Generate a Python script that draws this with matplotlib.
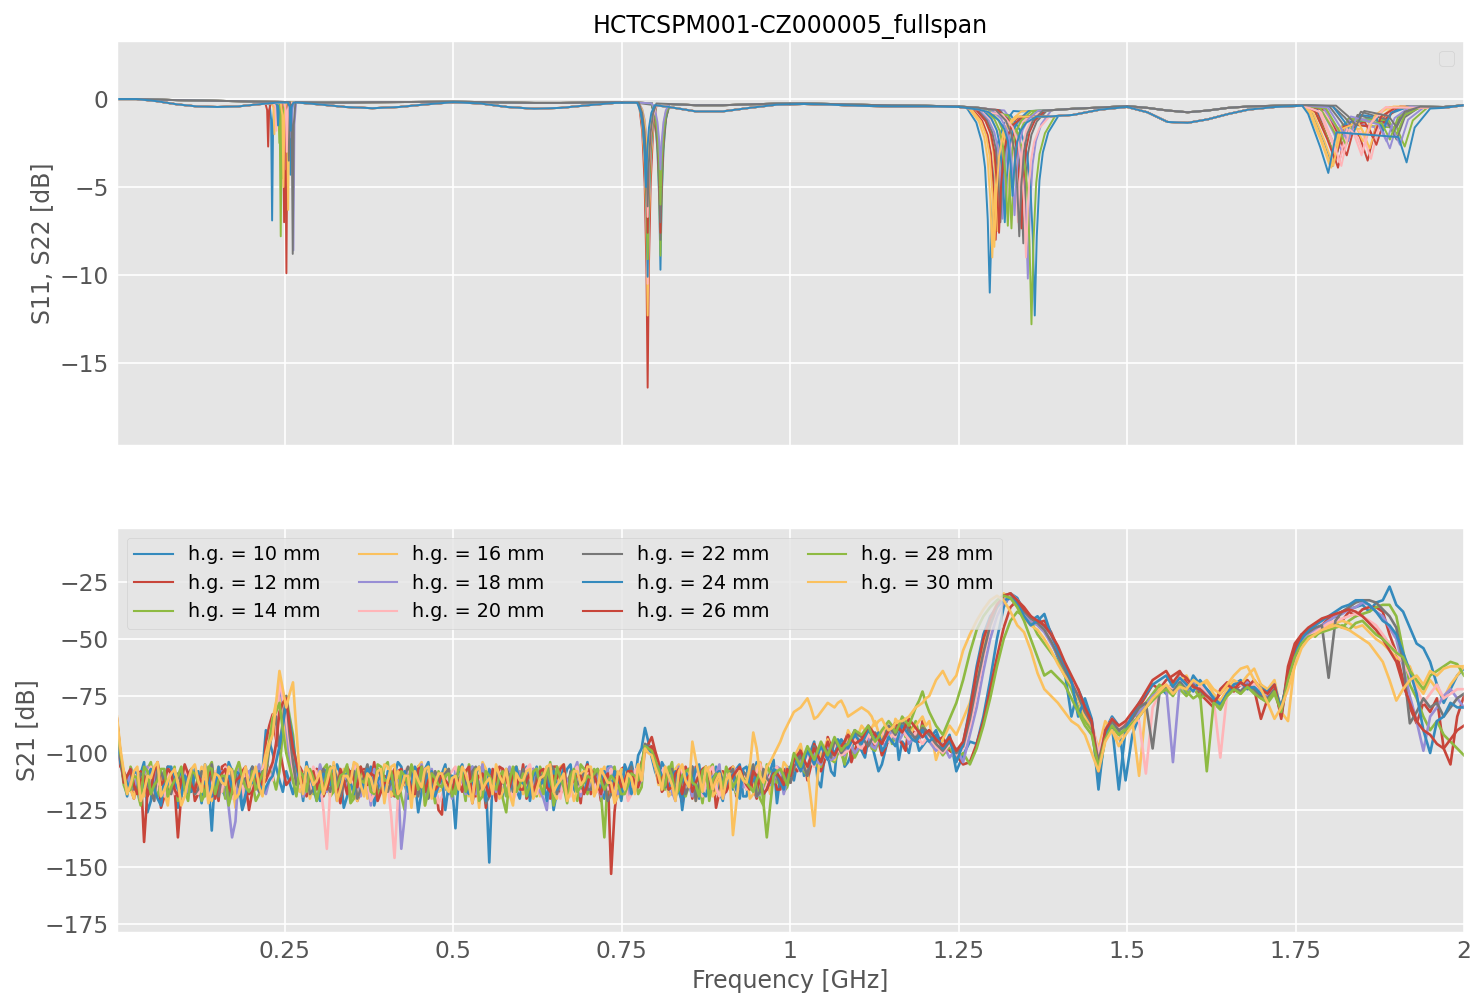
import numpy as np
import matplotlib
matplotlib.use('Agg')
import matplotlib.pyplot as plt

plt.style.use('ggplot')
plt.rcParams['font.family'] = ['DejaVu Sans']

COLORS = ['#348ABD', '#C8453A', '#8EBA42', '#FBC15E', '#988ED5', '#FFB5B8', '#777777']
HG_MM = [10, 12, 14, 16, 18, 20, 22, 24, 26, 28, 30]
TITLE = 'HCTCSPM001-CZ000005_fullspan'
X_TICKS = [0.25, 0.5, 0.75, 1.0, 1.25, 1.5, 1.75, 2.0]
X_TICK_LABELS = ['0.25', '0.5', '0.75', '1', '1.25', '1.5', '1.75', '2']
Y1_TICKS = [-15, -10, -5, 0]
Y2_TICKS = [-175, -150, -125, -100, -75, -50, -25]

# ---------------- S11 / S22 (top) ----------------
BASE_F = [0.001, 0.03, 0.06, 0.09, 0.12, 0.15, 0.18, 0.21, 0.24, 0.27, 0.30, 0.34, 0.38, 0.42,
          0.46, 0.50, 0.54, 0.58, 0.62, 0.66, 0.70, 0.74, 0.77, 0.82, 0.86, 0.90, 0.94, 0.98,
          1.02, 1.06, 1.10, 1.15, 1.20, 1.25, 1.28, 1.30, 1.34, 1.38, 1.42, 1.46, 1.50, 1.53,
          1.56, 1.59, 1.62, 1.65, 1.68, 1.72, 1.76, 1.97, 2.0]
BASE_S11 = [0.0, 0.0, -0.03, -0.06, -0.08, -0.10, -0.12, -0.15, -0.16, -0.18, -0.20, -0.20, -0.18, -0.17,
            -0.16, -0.15, -0.17, -0.20, -0.22, -0.22, -0.20, -0.18, -0.20, -0.28, -0.35, -0.35, -0.30, -0.26,
            -0.25, -0.28, -0.32, -0.36, -0.38, -0.42, -0.50, -0.60, -0.70, -0.65, -0.55, -0.48, -0.40, -0.50,
            -0.65, -0.75, -0.65, -0.50, -0.42, -0.38, -0.35, -0.45, -0.35]
BASE_S22 = [0.0, 0.0, -0.12, -0.30, -0.42, -0.45, -0.42, -0.30, -0.20, -0.20, -0.30, -0.45, -0.52, -0.45,
            -0.30, -0.18, -0.25, -0.45, -0.55, -0.50, -0.35, -0.22, -0.20, -0.45, -0.70, -0.70, -0.50, -0.32,
            -0.28, -0.32, -0.38, -0.42, -0.42, -0.45, -0.60, -0.80, -1.00, -1.00, -0.90, -0.60, -0.45, -0.75,
            -1.30, -1.35, -1.15, -0.85, -0.60, -0.45, -0.38, -0.50, -0.35]

DIP_A_F = [0.2312, 0.2253, 0.2440, 0.2346, 0.2628, 0.2375, 0.2570, 0.2584, 0.2524, 0.2420, 0.2550,
           0.2470, 0.2500, 0.2560, 0.2400, 0.2490, 0.2460, 0.2480, 0.2600, 0.2530, 0.2618, 0.2587]
DIP_A_DB = [-6.9, -2.7, -7.8, -2.0, -8.6, -1.8, -2.0, -4.3, -9.9, -2.5, -6.3,
            -3.0, -4.0, -3.5, -1.5, -7.0, -4.5, -5.0, -2.2, -3.0, -8.8, -1.8]
DIP_B_F = [0.8075, 0.7885, 0.8075, 0.7885, 0.8075, 0.7885, 0.8075, 0.7885, 0.8075, 0.7885, 0.8075,
           0.7885, 0.8075, 0.8075, 0.8075, 0.7885, 0.8075, 0.7885, 0.8075, 0.7885, 0.7885, 0.7860]
DIP_B_DB = [-9.7, -16.4, -8.9, -12.3, -6.5, -10.5, -8.0, -10.1, -7.6, -9.1, -5.0,
            -3.5, -4.5, -7.0, -5.5, -7.6, -6.0, -4.0, -4.0, -6.7, -6.1, -5.0]
DIP_C_F = [1.2962, 1.3050, 1.3284, 1.3000, 1.3527, 1.3200, 1.3460, 1.3630, 1.3432, 1.3581, 1.3080,
           1.3150, 1.3380, 1.3120, 1.3185, 1.3100, 1.3230, 1.3030, 1.3330, 1.3500, 1.3400, 1.3300]
DIP_C_DB = [-11.0, -8.0, -7.35, -9.0, -10.2, -6.5, -8.2, -12.3, -7.35, -12.8, -7.5,
            -6.8, -7.0, -7.0, -7.0, -7.6, -7.2, -8.4, -6.6, -9.0, -7.8, -5.5]
DIP_D_F1 = [1.805, 1.813, 1.808, 1.800, 1.818, 1.822, 1.830, 1.812, 1.826, 1.816, 1.803,
            1.820, 1.815, 1.835, 1.835, 1.809, 1.825, 1.806, 1.828, 1.818, 1.840, 1.7986]
DIP_D_DB1 = [-3.8, -3.9, -3.2, -3.7, -2.9, -3.0, -2.0, -3.0, -3.2, -2.5, -3.9,
             -2.2, -3.6, -1.6, -2.0, -3.5, -2.6, -3.8, -2.4, -3.8, -1.5, -4.2]
DIP_D_F2 = [1.880, 1.857, 1.912, 1.850, 1.890, 1.862, 1.900, 1.880, 1.870, 1.900, 1.860,
            1.905, 1.850, 1.895, 1.880, 1.865, 1.890, 1.855, 1.885, 1.848, 1.900, 1.9148]
DIP_D_DB2 = [-1.6, -3.5, -2.7, -2.4, -2.8, -3.4, -2.3, -1.8, -2.6, -2.0, -2.8,
             -2.6, -3.0, -1.9, -1.7, -2.2, -2.3, -2.2, -2.4, -3.2, -1.6, -3.6]

# dip shapes (offset GHz, fraction of depth)
PROF_A = ([-0.004, -0.0015, 0.0, 0.0015, 0.004], [0.0, 0.15, 1.0, 0.15, 0.0])
PROF_B = ([-0.013, -0.008, -0.0045, -0.0018, 0.0, 0.0018, 0.0045, 0.008, 0.013],
          [0.0, 0.1, 0.28, 0.58, 1.0, 0.58, 0.28, 0.1, 0.0])
PROF_C = ([-0.035, -0.02, -0.012, -0.007, -0.003, 0.0, 0.003, 0.007, 0.012, 0.02, 0.035],
          [0.0, 0.08, 0.18, 0.32, 0.6, 1.0, 0.6, 0.32, 0.18, 0.08, 0.0])

# ---------------- S21 (bottom), loss in dB ----------------
FREQ_S21 = np.linspace(0.001, 2.0, 200)
N_MID = 120  # extra samples between the first 121 grid points

S21_HG10 = [88, 112, 108, 118, 104, 121, 110, 115, 107, 124,
            109, 116, 113, 105, 134, 111, 119, 108, 114, 120,
            106, 117, 90, 100, 112, 108, 118, 110, 104, 115,
            121, 107, 113, 109, 119, 105, 116, 111, 123, 108,
            114, 110, 106, 120, 112, 117, 104, 113, 109, 118,
            133, 108, 115, 111, 105, 148, 112, 119, 107, 116,
            110, 121, 106, 114, 109, 117, 112, 105, 118, 111,
            115, 108, 120, 106, 113, 110, 104, 101, 89, 102,
            112, 107, 118, 110, 114, 106, 120, 109, 113, 117,
            108, 116, 105, 119, 111, 107, 114, 103, 110, 106,
            112, 98, 108, 95, 115, 101, 110, 96, 104, 90,
            99, 94, 102, 105, 92, 88, 95, 100, 93, 97,
            94, 90, 98, 92, 108, 101, 95, 96, 84, 68,
            50, 36, 30, 32, 38, 42, 40, 45, 51, 58,
            64, 84, 72, 79, 86, 116, 90, 84, 88, 112,
            92, 84, 80, 76, 71, 74, 70, 68, 74, 66,
            70, 72, 75, 78, 73, 70, 68, 71, 73, 70,
            74, 72, 80, 68, 56, 50, 46, 48, 45, 42,
            40, 38, 37, 36, 35, 38, 34, 33, 27, 35,
            38, 45, 52, 54, 60, 70, 78, 72, 66, 63]
S21_MID_HG10 = [104, 119, 112, 109, 126, 107, 114, 120, 111, 108,
                118, 107, 122, 112, 109, 116, 104, 113, 125, 109,
                112, 108, 95, 106, 117, 113, 109, 121, 112, 107,
                110, 118, 105, 124, 112, 108, 115, 106, 117, 112,
                119, 104, 113, 109, 126, 107, 118, 111, 105, 114,
                110, 117, 106, 122, 113, 109, 116, 108, 112, 120,
                106, 113, 118, 109, 125, 111, 107, 116, 112, 104,
                109, 117, 106, 113, 121, 108, 112, 98, 95, 108,
                104, 118, 110, 125, 107, 113, 109, 116, 106, 121,
                113, 107, 119, 110, 104, 116, 108, 122, 112, 107,
                104, 110, 99, 112, 102, 108, 94, 106, 100, 95,
                102, 96, 108, 99, 94, 103, 97, 92, 99, 95]
S21_HG12 = [86, 108, 115, 110, 139, 113, 106, 119, 111, 137,
            112, 107, 118, 114, 109, 121, 105, 116, 110, 113,
            117, 108, 95, 83, 98, 114, 109, 106, 119, 112,
            108, 115, 110, 122, 106, 113, 117, 109, 104, 116,
            111, 119, 107, 114, 110, 105, 118, 112, 127, 109,
            116, 106, 113, 119, 110, 108, 121, 107, 114, 111,
            105, 117, 112, 109, 120, 106, 115, 110, 113, 108,
            118, 111, 107, 153, 112, 106, 116, 109, 100, 93,
            104, 115, 108, 113, 106, 120, 110, 114, 107, 117,
            112, 106, 118, 109, 115, 104, 113, 108, 116, 110,
            105, 100, 112, 96, 108, 93, 103, 98, 91, 99,
            95, 90, 97, 101, 94, 89, 96, 88, 92, 86,
            90, 95, 93, 99, 101, 105, 104, 96, 86, 72,
            58, 45, 36, 33, 36, 40, 43, 42, 47, 54,
            62, 70, 76, 84, 88, 104, 92, 86, 90, 87,
            84, 80, 75, 70, 72, 68, 66, 64, 69, 72,
            74, 77, 80, 72, 69, 73, 70, 68, 72, 85,
            76, 70, 84, 62, 52, 48, 50, 46, 44, 41,
            40, 42, 38, 40, 37, 36, 36, 38, 48, 56,
            68, 80, 87, 78, 82, 76, 98, 105, 84, 75]
S21_MID_HG12 = [106, 112, 120, 108, 117, 110, 124, 106, 115, 118,
                109, 121, 107, 115, 111, 106, 119, 113, 108, 125,
                110, 114, 88, 94, 106, 112, 118, 109, 115, 107,
                119, 106, 116, 112, 109, 121, 107, 113, 118, 110,
                115, 108, 113, 121, 106, 117, 110, 125, 108, 116,
                112, 119, 108, 110, 124, 113, 106, 117, 109, 115,
                120, 107, 114, 111, 106, 118, 112, 108, 122, 105,
                112, 121, 109, 126, 107, 114, 110, 104, 96, 99,
                117, 109, 113, 121, 110, 106, 118, 112, 124, 108,
                107, 119, 111, 106, 120, 112, 109, 116, 107, 113,
                108, 102, 106, 99, 104, 97, 100, 95, 104, 94,
                100, 93, 95, 98, 91, 94, 99, 90, 95, 92]
S21_HG14 = [90, 114, 106, 117, 111, 104, 119, 108, 113, 121,
            106, 115, 110, 118, 104, 112, 120, 107, 116, 109,
            113, 118, 104, 110, 108, 75, 92, 114, 107, 118,
            110, 105, 117, 112, 108, 120, 106, 114, 109, 116,
            104, 113, 119, 108, 115, 110, 106, 122, 111, 107,
            118, 112, 105, 116, 109, 114, 107, 120, 111, 106,
            115, 108, 119, 110, 104, 117, 112, 109, 121, 107,
            113, 110, 137, 108, 115, 106, 112, 118, 97, 99,
            109, 116, 104, 112, 119, 107, 113, 110, 105, 118,
            110, 114, 107, 116, 109, 120, 105, 112, 108, 115,
            107, 102, 110, 99, 106, 95, 104, 100, 97, 102,
            96, 92, 99, 94, 89, 93, 87, 91, 86, 88,
            92, 96, 101, 97, 103, 100, 105, 98, 88, 76,
            62, 50, 42, 38, 40, 42, 48, 52, 56, 60,
            66, 72, 80, 86, 90, 110, 94, 88, 92, 89,
            88, 82, 78, 74, 70, 73, 69, 72, 75, 71,
            76, 74, 78, 81, 75, 72, 74, 70, 73, 76,
            78, 74, 82, 66, 58, 50, 47, 49, 46, 44,
            43, 45, 42, 40, 39, 38, 36, 35, 35, 40,
            55, 70, 76, 84, 90, 86, 92, 95, 98, 101]
S21_MID_HG14 = [102, 118, 110, 123, 107, 115, 112, 117, 106, 119,
                112, 109, 121, 107, 117, 110, 114, 123, 108, 113,
                121, 109, 107, 116, 90, 84, 108, 119, 112, 110,
                107, 119, 110, 114, 122, 108, 113, 110, 118, 106,
                117, 109, 125, 111, 106, 119, 113, 108, 116, 112,
                109, 121, 110, 113, 108, 117, 112, 126, 107, 114,
                111, 117, 106, 114, 123, 109, 115, 110, 105, 118,
                107, 118, 112, 106, 120, 111, 109, 115, 99, 104,
                113, 108, 118, 106, 114, 110, 122, 107, 117, 112,
                108, 118, 112, 105, 115, 123, 109, 113, 117, 110,
                104, 108, 102, 106, 98, 103, 100, 105, 96, 99,
                94, 98, 95, 91, 96, 90, 93, 89, 92, 90]
S21_HG16 = [85, 110, 116, 108, 119, 113, 105, 117, 110, 114,
            118, 107, 113, 109, 121, 106, 115, 111, 104, 117,
            109, 114, 100, 85, 72, 96, 110, 117, 106, 113,
            116, 109, 104, 118, 111, 107, 114, 120, 108, 112,
            106, 117, 110, 113, 119, 104, 112, 108, 116, 110,
            113, 107, 119, 110, 104, 115, 109, 117, 112, 106,
            118, 110, 107, 114, 109, 120, 105, 113, 116, 108,
            111, 116, 106, 112, 119, 108, 113, 105, 96, 100,
            114, 108, 117, 105, 112, 109, 116, 110, 119, 107,
            112, 106, 115, 109, 118, 104, 111, 107, 113, 106,
            102, 96, 108, 132, 100, 94, 103, 98, 90, 95,
            88, 92, 86, 94, 90, 85, 89, 93, 88, 84,
            86, 103, 94, 88, 92, 85, 78, 66, 52, 42,
            34, 30, 32, 36, 41, 44, 46, 50, 55, 61,
            66, 70, 76, 84, 88, 98, 86, 90, 94, 90,
            86, 110, 80, 76, 72, 70, 74, 68, 66, 72,
            71, 69, 74, 77, 72, 68, 70, 66, 63, 70,
            72, 68, 82, 86, 60, 52, 48, 47, 45, 44,
            43, 42, 43, 45, 44, 47, 50, 52, 55, 58,
            60, 62, 70, 74, 68, 72, 76, 70, 66, 62]
S21_MID_HG16 = [100, 113, 120, 111, 106, 116, 110, 123, 108, 117,
                112, 116, 106, 118, 110, 113, 108, 124, 110, 114,
                116, 107, 94, 78, 82, 104, 115, 110, 120, 108,
                113, 119, 110, 107, 115, 121, 108, 116, 111, 105,
                119, 108, 114, 112, 106, 123, 109, 117, 107, 113,
                108, 116, 111, 124, 107, 112, 120, 109, 115, 110,
                113, 108, 119, 110, 117, 106, 114, 121, 109, 112,
                118, 109, 114, 122, 107, 116, 110, 108, 98, 106,
                111, 119, 107, 114, 108, 121, 112, 106, 117, 110,
                116, 109, 113, 120, 106, 112, 118, 109, 104, 110,
                99, 104, 120, 110, 98, 100, 96, 101, 93, 92,
                90, 89, 91, 88, 93, 87, 92, 90, 86, 88]
S21_HG18 = [88, 111, 107, 116, 109, 118, 105, 113, 110, 117,
            108, 115, 111, 106, 119, 110, 114, 137, 107, 116,
            112, 105, 118, 109, 70, 88, 113, 107, 116, 110,
            105, 117, 112, 108, 115, 106, 119, 111, 107, 114,
            110, 113, 142, 108, 116, 105, 112, 118, 109, 115,
            107, 114, 110, 118, 105, 112, 117, 109, 106, 116,
            111, 108, 115, 120, 107, 113, 109, 117, 104, 112,
            116, 109, 113, 106, 118, 110, 107, 114, 98, 101,
            108, 113, 117, 106, 111, 119, 108, 114, 110, 105,
            116, 111, 108, 114, 106, 118, 110, 113, 107, 112,
            106, 103, 109, 100, 105, 97, 102, 99, 95, 100,
            97, 93, 98, 95, 90, 94, 92, 96, 91, 93,
            95, 99, 96, 102, 98, 104, 92, 80, 64, 50,
            40, 34, 32, 35, 39, 42, 44, 47, 52, 57,
            63, 69, 74, 82, 87, 102, 91, 86, 90, 88,
            85, 82, 79, 75, 73, 71, 104, 70, 73, 69,
            72, 74, 77, 79, 74, 71, 73, 69, 72, 74,
            75, 71, 83, 68, 57, 51, 48, 46, 44, 42,
            40, 39, 37, 36, 34, 35, 38, 40, 45, 50,
            62, 75, 86, 99, 84, 80, 75, 72, 76, 80]
S21_MID_HG18 = [103, 116, 110, 121, 106, 113, 119, 108, 115, 112,
                117, 109, 114, 120, 112, 108, 124, 130, 112, 108,
                109, 116, 112, 96, 78, 104, 110, 119, 108, 113,
                111, 108, 121, 110, 116, 109, 113, 123, 110, 117,
                116, 112, 128, 113, 110, 119, 107, 115, 112, 120,
                110, 118, 106, 113, 121, 109, 115, 110, 117, 108,
                113, 107, 117, 125, 110, 116, 112, 108, 119, 111,
                110, 119, 107, 115, 112, 120, 109, 112, 99, 104,
                115, 108, 121, 110, 114, 107, 117, 112, 109, 120,
                112, 107, 115, 110, 119, 108, 114, 106, 118, 110,
                105, 107, 101, 104, 100, 103, 98, 101, 97, 98,
                95, 97, 93, 97, 92, 95, 90, 94, 93, 92]
S21_HG20 = [87, 109, 114, 108, 117, 106, 112, 119, 110, 115,
            107, 113, 118, 109, 115, 111, 106, 120, 113, 108,
            116, 110, 104, 112, 68, 85, 108, 115, 110, 106,
            113, 142, 108, 117, 110, 105, 115, 112, 118, 107,
            114, 146, 110, 106, 117, 112, 108, 115, 119, 110,
            106, 116, 111, 108, 114, 120, 107, 113, 109, 117,
            110, 105, 118, 112, 108, 116, 111, 119, 106, 113,
            109, 117, 112, 107, 115, 110, 118, 106, 99, 98,
            111, 106, 115, 109, 117, 112, 108, 114, 106, 119,
            109, 113, 107, 116, 110, 105, 114, 108, 112, 107,
            104, 108, 100, 106, 98, 103, 96, 101, 99, 94,
            98, 92, 96, 90, 95, 93, 89, 94, 91, 96,
            93, 97, 100, 96, 101, 98, 88, 74, 58, 45,
            37, 32, 30, 33, 38, 41, 43, 46, 50, 56,
            62, 68, 73, 81, 86, 100, 90, 85, 89, 86,
            84, 86, 109, 80, 74, 70, 72, 67, 70, 73,
            70, 73, 76, 102, 74, 71, 70, 72, 69, 73,
            74, 70, 82, 70, 60, 53, 49, 47, 45, 43,
            42, 41, 40, 39, 40, 42, 44, 48, 52, 56,
            60, 66, 72, 78, 74, 70, 76, 74, 72, 72]
S21_MID_HG20 = [101, 117, 111, 113, 109, 121, 115, 108, 118, 111,
                110, 116, 113, 122, 108, 117, 109, 113, 119, 111,
                113, 107, 109, 95, 76, 96, 114, 110, 117, 109,
                125, 116, 112, 110, 118, 108, 113, 121, 110, 114,
                127, 120, 108, 113, 111, 116, 110, 122, 114, 108,
                112, 108, 119, 110, 117, 113, 109, 116, 121, 112,
                107, 113, 111, 115, 110, 120, 114, 108, 117, 109,
                114, 109, 116, 110, 113, 121, 108, 112, 97, 104,
                108, 112, 118, 107, 114, 110, 119, 108, 115, 113,
                111, 117, 109, 113, 108, 118, 110, 106, 115, 109,
                106, 103, 104, 100, 101, 99, 98, 100, 96, 97,
                95, 94, 93, 94, 92, 91, 92, 93, 94, 94]
S21_HG22 = [86, 112, 108, 115, 110, 117, 106, 113, 118, 109,
            114, 107, 116, 110, 105, 119, 112, 108, 115, 111,
            106, 117, 110, 90, 98, 75, 104, 113, 108, 116,
            110, 114, 107, 119, 112, 108, 116, 105, 113, 110,
            117, 109, 113, 106, 115, 111, 120, 108, 112, 107,
            114, 110, 117, 106, 112, 119, 108, 113, 110, 115,
            107, 116, 110, 113, 105, 118, 112, 108, 114, 109,
            116, 107, 112, 118, 109, 113, 106, 111, 96, 98,
            110, 115, 107, 112, 118, 106, 113, 109, 116, 108,
            113, 107, 115, 110, 105, 117, 111, 108, 114, 109,
            106, 101, 110, 97, 104, 99, 94, 100, 96, 90,
            93, 97, 91, 95, 88, 92, 86, 90, 94, 89,
            92, 96, 99, 95, 100, 97, 85, 70, 56, 44,
            36, 31, 30, 34, 38, 41, 43, 46, 51, 57,
            63, 69, 75, 82, 87, 104, 91, 86, 90, 88,
            85, 80, 78, 98, 74, 71, 73, 69, 72, 70,
            73, 75, 77, 80, 74, 71, 73, 70, 72, 75,
            76, 72, 80, 67, 55, 49, 47, 45, 44, 67,
            42, 38, 36, 34, 33, 33, 34, 37, 40, 45,
            60, 87, 82, 76, 80, 78, 84, 80, 76, 74]
S21_MID_HG22 = [102, 110, 116, 109, 114, 121, 108, 116, 111, 114,
                110, 118, 108, 113, 116, 110, 122, 109, 113, 117,
                111, 108, 98, 84, 86, 92, 114, 110, 118, 112,
                107, 117, 111, 113, 108, 120, 110, 116, 107, 114,
                112, 116, 110, 109, 119, 107, 115, 112, 109, 118,
                111, 113, 108, 116, 122, 110, 114, 107, 117, 112,
                110, 119, 109, 115, 107, 113, 120, 110, 111, 116,
                112, 110, 121, 108, 114, 110, 117, 106, 97, 106,
                112, 109, 117, 110, 114, 121, 108, 115, 110, 112,
                109, 116, 108, 114, 119, 107, 113, 110, 109, 113,
                104, 106, 102, 101, 98, 102, 97, 98, 93, 92,
                95, 94, 93, 92, 90, 89, 88, 92, 91, 90]
S21_HG24 = [89, 110, 116, 109, 114, 107, 120, 111, 106, 116,
            110, 117, 108, 113, 119, 106, 112, 115, 109, 118,
            113, 108, 115, 110, 97, 78, 95, 112, 107, 115,
            117, 111, 106, 114, 109, 118, 112, 107, 115, 110,
            108, 116, 111, 117, 106, 113, 109, 119, 110, 114,
            111, 105, 118, 109, 114, 107, 115, 110, 117, 106,
            113, 119, 108, 112, 110, 116, 106, 114, 109, 117,
            109, 113, 108, 116, 111, 105, 118, 110, 97, 100,
            106, 113, 110, 117, 108, 114, 105, 119, 111, 108,
            115, 109, 120, 106, 112, 110, 116, 107, 113, 109,
            102, 108, 99, 105, 97, 103, 100, 94, 98, 92,
            96, 90, 94, 99, 93, 97, 88, 92, 95, 90,
            95, 92, 98, 94, 104, 96, 80, 62, 48, 40,
            36, 33, 32, 34, 40, 44, 42, 39, 48, 55,
            61, 68, 84, 76, 85, 112, 92, 88, 116, 90,
            83, 78, 74, 70, 68, 66, 71, 67, 70, 73,
            68, 72, 76, 79, 74, 70, 69, 72, 71, 74,
            73, 70, 81, 66, 56, 50, 46, 44, 42, 40,
            38, 36, 35, 33, 33, 35, 38, 42, 44, 48,
            56, 64, 74, 90, 100, 86, 84, 78, 80, 80]
S21_MID_HG24 = [104, 113, 108, 117, 110, 116, 123, 106, 113, 119,
                113, 109, 116, 110, 118, 113, 110, 108, 124, 112,
                110, 118, 112, 104, 88, 86, 106, 113, 110, 121,
                109, 114, 119, 110, 113, 107, 116, 110, 112, 119,
                112, 119, 108, 114, 110, 117, 108, 114, 125, 110,
                108, 116, 112, 106, 121, 110, 113, 118, 109, 113,
                116, 110, 114, 121, 108, 112, 119, 110, 114, 112,
                111, 116, 112, 108, 120, 109, 113, 107, 98, 105,
                110, 116, 108, 121, 112, 107, 117, 113, 109, 115,
                112, 116, 107, 114, 110, 118, 112, 108, 116, 106,
                105, 104, 102, 101, 100, 98, 97, 96, 95, 94,
                93, 92, 91, 97, 95, 92, 90, 94, 93, 93]
S21_HG26 = [85, 113, 107, 118, 110, 116, 104, 112, 109, 119,
            105, 114, 110, 116, 108, 113, 107, 118, 111, 106,
            117, 109, 112, 104, 82, 76, 98, 110, 115, 108,
            111, 116, 109, 107, 118, 112, 106, 114, 110, 117,
            113, 107, 115, 110, 118, 106, 112, 116, 109, 114,
            110, 117, 106, 113, 109, 119, 111, 107, 115, 110,
            116, 109, 113, 107, 117, 111, 105, 114, 110, 118,
            107, 114, 111, 117, 109, 112, 108, 115, 98, 97,
            113, 109, 115, 107, 112, 117, 110, 106, 114, 109,
            117, 110, 106, 114, 108, 113, 116, 109, 111, 107,
            103, 99, 106, 98, 104, 95, 101, 97, 92, 96,
            94, 88, 92, 96, 90, 87, 91, 85, 89, 93,
            90, 94, 97, 93, 99, 95, 82, 64, 50, 41,
            35, 31, 30, 33, 37, 40, 42, 44, 48, 53,
            60, 66, 72, 80, 86, 108, 90, 85, 88, 86,
            82, 78, 73, 68, 66, 64, 69, 65, 67, 71,
            72, 75, 78, 74, 70, 72, 69, 71, 68, 72,
            74, 70, 85, 64, 54, 48, 45, 43, 41, 40,
            39, 38, 37, 38, 40, 43, 46, 50, 55, 60,
            70, 78, 86, 90, 92, 96, 98, 94, 90, 88]
S21_MID_HG26 = [100, 110, 114, 112, 119, 108, 114, 107, 116, 112,
                109, 117, 113, 110, 120, 109, 115, 112, 108, 118,
                112, 114, 108, 96, 78, 88, 104, 113, 111, 116,
                114, 110, 118, 112, 108, 115, 110, 109, 121, 113,
                110, 119, 112, 116, 107, 117, 109, 114, 112, 118,
                113, 108, 122, 110, 114, 107, 118, 112, 109, 116,
                112, 117, 108, 115, 110, 107, 119, 112, 110, 114,
                110, 118, 109, 113, 115, 108, 114, 109, 98, 102,
                111, 116, 109, 118, 110, 113, 107, 116, 112, 118,
                113, 108, 111, 116, 110, 118, 112, 109, 114, 110,
                101, 103, 102, 101, 100, 99, 98, 95, 94, 95,
                91, 90, 94, 93, 89, 89, 88, 87, 91, 91]
S21_HG28 = [87, 109, 116, 111, 106, 118, 112, 107, 115, 110,
            116, 108, 113, 119, 107, 112, 110, 117, 104, 115,
            108, 113, 106, 85, 78, 100, 112, 108, 117, 111,
            114, 108, 117, 110, 105, 116, 112, 109, 118, 106,
            112, 118, 108, 114, 110, 106, 117, 111, 115, 109,
            115, 109, 113, 107, 119, 110, 116, 108, 112, 117,
            109, 114, 107, 118, 112, 106, 115, 110, 117, 113,
            111, 107, 116, 110, 114, 118, 109, 112, 97, 99,
            107, 114, 110, 116, 108, 113, 119, 106, 112, 110,
            106, 115, 109, 113, 117, 108, 137, 110, 107, 114,
            100, 106, 97, 103, 95, 101, 93, 99, 96, 90,
            92, 88, 95, 90, 86, 91, 84, 88, 80, 73,
            82, 88, 92, 85, 78, 68, 56, 46, 40, 36,
            33, 31, 32, 36, 42, 50, 58, 66, 64, 67,
            70, 76, 82, 88, 92, 106, 94, 88, 92, 90,
            87, 84, 80, 77, 74, 72, 75, 70, 73, 76,
            74, 108, 78, 80, 75, 72, 74, 71, 74, 76,
            77, 73, 82, 68, 58, 52, 49, 48, 47, 46,
            45, 44, 46, 43, 42, 45, 48, 50, 53, 56,
            58, 64, 68, 72, 66, 64, 62, 60, 61, 66]
S21_MID_HG28 = [100, 117, 110, 121, 108, 114, 107, 119, 112, 106,
                121, 109, 114, 106, 118, 110, 123, 108, 111, 117,
                116, 109, 96, 82, 90, 106, 119, 110, 107, 121,
                118, 106, 115, 109, 121, 107, 113, 117, 105, 112,
                108, 120, 110, 105, 116, 123, 109, 114, 110, 119,
                106, 117, 112, 121, 108, 113, 110, 119, 106, 114,
                119, 108, 114, 106, 117, 111, 122, 107, 115, 110,
                109, 112, 113, 112, 118, 114, 110, 105, 98, 103,
                116, 106, 119, 110, 107, 114, 108, 121, 109, 115,
                110, 112, 111, 115, 112, 122, 123, 108, 110, 107,
                103, 101, 100, 99, 98, 97, 96, 97, 93, 91,
                90, 92, 93, 88, 88, 88, 86, 84, 77, 78]
S21_HG30 = [84, 108, 114, 106, 117, 111, 104, 116, 109, 113,
            119, 107, 112, 105, 116, 110, 114, 108, 118, 106,
            111, 115, 104, 92, 64, 80, 69, 110, 106, 114,
            108, 113, 106, 116, 110, 104, 114, 109, 117, 107,
            112, 105, 116, 110, 108, 115, 106, 113, 109, 117,
            110, 106, 114, 108, 116, 111, 105, 113, 118, 109,
            112, 107, 116, 110, 105, 114, 109, 117, 108, 112,
            106, 115, 110, 113, 108, 116, 111, 105, 98, 101,
            110, 106, 114, 108, 112, 95, 110, 106, 116, 109,
            112, 136, 108, 113, 91, 110, 106, 101, 95, 88,
            82, 80, 76, 85, 82, 78, 80, 77, 84, 82,
            80, 82, 88, 85, 90, 87, 86, 84, 80, 78,
            75, 68, 64, 70, 66, 55, 48, 42, 37, 33,
            31, 33, 38, 44, 47, 55, 65, 72, 75, 78,
            82, 86, 88, 92, 100, 108, 95, 90, 97, 92,
            88, 84, 80, 76, 73, 70, 74, 71, 72, 68,
            70, 68, 72, 74, 70, 66, 63, 62, 68, 72,
            78, 85, 80, 72, 62, 54, 50, 48, 46, 45,
            44, 45, 46, 48, 50, 52, 56, 60, 68, 77,
            72, 68, 66, 70, 64, 66, 63, 62, 62, 62]
S21_MID_HG30 = [98, 118, 108, 121, 110, 106, 119, 112, 107, 123,
                112, 105, 117, 122, 109, 113, 106, 120, 111, 115,
                106, 119, 96, 78, 72, 74, 90, 118, 109, 112,
                118, 107, 121, 110, 113, 105, 119, 111, 108, 122,
                106, 118, 110, 124, 112, 107, 120, 109, 114, 111,
                116, 109, 122, 106, 113, 118, 110, 107, 123, 112,
                108, 120, 111, 106, 117, 112, 121, 108, 114, 106,
                119, 107, 113, 121, 110, 109, 118, 112, 100, 106,
                116, 110, 121, 105, 115, 103, 117, 109, 112, 120,
                109, 122, 112, 106, 98, 113, 104, 98, 91, 85,
                81, 78, 80, 84, 80, 79, 78, 80, 83, 81,
                81, 84, 86, 88, 89, 86, 85, 82, 79, 76]

S21_ALL = [S21_HG10, S21_HG12, S21_HG14, S21_HG16, S21_HG18, S21_HG20,
           S21_HG22, S21_HG24, S21_HG26, S21_HG28, S21_HG30]
S21_MID_ALL = [S21_MID_HG10, S21_MID_HG12, S21_MID_HG14, S21_MID_HG16, S21_MID_HG18,
               S21_MID_HG20, S21_MID_HG22, S21_MID_HG24, S21_MID_HG26, S21_MID_HG28,
               S21_MID_HG30]


def s_line(i):
    bf = np.array(BASE_F)
    bv = np.array(BASE_S11 if i % 2 == 0 else BASE_S22)
    f1, d1, f2, d2 = DIP_D_F1[i], DIP_D_DB1[i], DIP_D_F2[i], DIP_D_DB2[i]
    dips = [(DIP_A_F[i], DIP_A_DB[i], PROF_A),
            (DIP_B_F[i], DIP_B_DB[i], PROF_B),
            (DIP_C_F[i], DIP_C_DB[i], PROF_C)]
    keep = np.ones(len(bf), bool)
    for fc, d, (offs, fr) in dips:
        keep &= ~((bf >= fc + offs[0]) & (bf <= fc + offs[-1]))
    keep &= ~((bf >= f1 - 0.03) & (bf <= f2 + 0.035))
    pf = list(bf[keep])
    pv = list(bv[keep])
    for fc, d, (offs, fr) in dips:
        for o, r in zip(offs, fr):
            b = np.interp(fc + o, bf, bv)
            pf.append(fc + o)
            pv.append(b + r * (d - b))
    for f, v in [(f1 - 0.03, 0.2 * d1), (f1 - 0.012, 0.65 * d1), (f1, d1),
                 (f1 + 0.012, 0.45 * d1), (f2 - 0.012, 0.6 * d2), (f2, d2),
                 (f2 + 0.012, 0.45 * d2), (f2 + 0.035, 0.15 * d2)]:
        pf.append(f)
        pv.append(min(v, np.interp(f, bf, bv)))
    o = np.argsort(pf)
    return np.array(pf)[o], np.array(pv)[o]


fig = plt.figure(figsize=(14.76, 9.94), dpi=100)
ax1 = fig.add_axes([117 / 1476, 1 - 445 / 994, 1347 / 1476, 404 / 994])
ax2 = fig.add_axes([117 / 1476, 1 - 932 / 994, 1347 / 1476, 404 / 994], sharex=ax1)

for i in range(22):
    f, v = s_line(i)
    ax1.plot(f, v, color=COLORS[i % 7], lw=1.4)

f_mid = (FREQ_S21[:N_MID] + FREQ_S21[1:N_MID + 1]) / 2
for j in range(len(HG_MM)):
    fx = np.concatenate([FREQ_S21, f_mid])
    vy = -np.concatenate([np.array(S21_ALL[j], float), np.array(S21_MID_ALL[j], float)])
    o = np.argsort(fx)
    ax2.plot(fx[o], vy[o], color=COLORS[j % 7], lw=1.9,
             label=f'h.g. = {HG_MM[j]} mm')

ax1.set_xlim(0.001, 2.0)
ax1.set_ylim(-19.66, 3.3)
ax2.set_ylim(-178.5, -1.3)
ax2.set_xticks(X_TICKS)
ax2.set_xticklabels(X_TICK_LABELS)
ax1.set_yticks(Y1_TICKS)
ax2.set_yticks(Y2_TICKS)
ax1.tick_params(labelbottom=False)
for ax in (ax1, ax2):
    ax.tick_params(length=0, labelsize=16.8, colors='#555555', pad=6)
    ax.grid(True, color='white', lw=1.2)
    ax.set_facecolor('#E5E5E5')

ax1.set_title(TITLE, fontsize=17, color='black')
ax1.set_ylabel('S11, S22 [dB]', fontsize=17, color='#555555')
ax2.set_ylabel('S21 [dB]', fontsize=17, color='#555555')
ax2.set_xlabel('Frequency [GHz]', fontsize=17, color='#555555')

ax1.legend(loc='upper right', fontsize=13.8)
leg = ax2.legend(loc='upper left', ncol=4, fontsize=13.8)
for line in leg.get_lines():
    line.set_linewidth(1.5)

fig.savefig('out.png', dpi=100)
